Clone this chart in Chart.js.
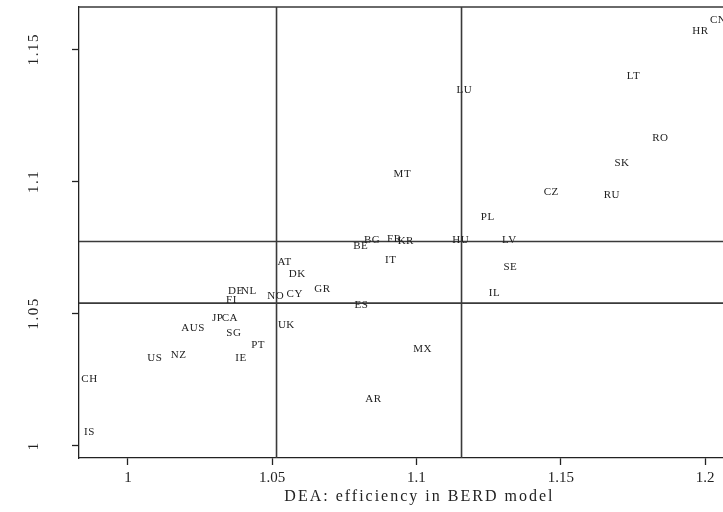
<!DOCTYPE html>
<html>
<head>
<meta charset="utf-8">
<script src="https://cdn.jsdelivr.net/npm/chart.js@4.4.1/dist/chart.umd.min.js"></script>
<style>
    html, body { margin: 0; padding: 0; background: #ffffff; }
    #wrap { width: 723px; height: 512px; }
</style>
</head>
<body>
<div id="wrap"><canvas id="chart" width="723" height="512"></canvas></div>
<script>
// country codes and their two efficiency scores (x: BERD model, y: other model)
const countries = ["CN", "HR", "LT", "LU", "RO", "SK", "MT", "CZ", "RU", "PL",
                   "HU", "LV", "BE", "BG", "FR", "KR", "IT", "SE", "AT", "DK",
                   "IL", "GR", "DE", "NL", "NO", "CY", "FI", "ES", "JP", "CA",
                   "AUS", "UK", "SG", "PT", "MX", "US", "NZ", "IE", "CH", "AR", "IS"];
const berdEff = [1.2045, 1.1984, 1.1752, 1.1166, 1.1845, 1.1712, 1.0951, 1.1467, 1.1677, 1.1247,
                 1.1153, 1.1322, 1.0807, 1.0846, 1.0923, 1.0963, 1.0911, 1.1325, 1.0543, 1.0587,
                 1.1270, 1.0674, 1.0374, 1.0419, 1.0512, 1.0578, 1.0359, 1.0809, 1.0311, 1.0353,
                 1.0226, 1.0549, 1.0367, 1.0451, 1.1021, 1.0093, 1.0176, 1.0392, 0.9867, 1.0851, 0.9867];
const otherEff = [1.1610, 1.1566, 1.1396, 1.1345, 1.1163, 1.1068, 1.1028, 1.0958, 1.0948, 1.0866,
                  1.0778, 1.0778, 1.0756, 1.0778, 1.0782, 1.0775, 1.0702, 1.0677, 1.0696, 1.0649,
                  1.0576, 1.0593, 1.0585, 1.0585, 1.0566, 1.0573, 1.0551, 1.0532, 1.0483, 1.0483,
                  1.0443, 1.0457, 1.0425, 1.0381, 1.0366, 1.0331, 1.0343, 1.0331, 1.0252, 1.0175, 1.0051];

const xTicks = [1, 1.05, 1.1, 1.15, 1.2];
const yTicks = [1, 1.05, 1.1, 1.15];
const xCutoffs = [1.0515, 1.1156];
const yCutoffs = [1.0539, 1.0772];
const xTitle = "DEA: efficiency in BERD model";

const serif = '"Liberation Serif", "DejaVu Serif", serif';
const ink = "#222222";

const points = berdEff.map((v, i) => ({ x: v, y: otherEff[i] }));

const quadrantLines = {
    id: "quadrantLines",
    beforeDatasetsDraw(chart) {
        const { ctx, chartArea: a, scales: { x, y } } = chart;
        ctx.save();
        ctx.strokeStyle = "#3a3a3a";
        ctx.lineWidth = 1.6;
        ctx.beginPath();
        xCutoffs.forEach(v => {
            const px = x.getPixelForValue(v);
            ctx.moveTo(px, a.top);
            ctx.lineTo(px, a.bottom);
        });
        yCutoffs.forEach(v => {
            const py = y.getPixelForValue(v);
            ctx.moveTo(a.left, py);
            ctx.lineTo(a.right, py);
        });
        // top frame line
        ctx.moveTo(a.left, a.top);
        ctx.lineTo(a.right, a.top);
        ctx.stroke();
        ctx.restore();
    }
};

const pointLabels = {
    id: "pointLabels",
    afterDatasetsDraw(chart) {
        const { ctx } = chart;
        const meta = chart.getDatasetMeta(0);
        ctx.save();
        ctx.font = "11px " + serif;
        ctx.letterSpacing = "0.5px";
        ctx.fillStyle = ink;
        ctx.textAlign = "center";
        ctx.textBaseline = "middle";
        meta.data.forEach((pt, i) => {
            ctx.fillText(countries[i], pt.x, pt.y);
        });
        ctx.restore();
    }
};

const axisText = {
    id: "axisText",
    afterDraw(chart) {
        const { ctx, scales: { x, y } } = chart;
        ctx.save();
        ctx.fillStyle = ink;
        ctx.font = "15px " + serif;
        ctx.letterSpacing = "1.5px";
        ctx.textAlign = "center";
        ctx.textBaseline = "middle";
        // rotated y tick labels
        yTicks.forEach(v => {
            ctx.save();
            ctx.translate(34, y.getPixelForValue(v));
            ctx.rotate(-Math.PI / 2);
            ctx.fillText(String(v), 0, 0);
            ctx.restore();
        });
        ctx.font = "16px " + serif;
        ctx.letterSpacing = "2px";
        ctx.fillText(xTitle, x.getPixelForValue(1.101), 497);
        ctx.restore();
    }
};

new Chart(document.getElementById("chart"), {
    type: "scatter",
    data: {
        datasets: [{
            data: points,
            pointRadius: 0,
            pointHoverRadius: 0
        }]
    },
    options: {
        responsive: false,
        animation: false,
        layout: {
            padding: { top: 7, right: 0, left: 0, bottom: 0 }
        },
        plugins: {
            legend: { display: false },
            tooltip: { enabled: false }
        },
        scales: {
            x: {
                type: "linear",
                min: 0.98306,
                max: 1.2062,
                afterBuildTicks: scale => { scale.ticks = xTicks.map(v => ({ value: v })); },
                afterFit: scale => { scale.height = 54; },
                grid: {
                    drawOnChartArea: false,
                    drawTicks: true,
                    tickLength: 7,
                    tickColor: ink,
                    tickWidth: 1.3
                },
                border: { display: true, color: ink, width: 1.3 },
                ticks: {
                    color: ink,
                    padding: 4,
                    maxRotation: 0,
                    autoSkip: false,
                    font: { family: serif, size: 15 },
                    callback: v => String(v)
                }
            },
            y: {
                type: "linear",
                min: 0.99535,
                max: 1.1659,
                afterBuildTicks: scale => { scale.ticks = yTicks.map(v => ({ value: v })); },
                afterFit: scale => { scale.width = 79; },
                grid: {
                    drawOnChartArea: false,
                    drawTicks: true,
                    tickLength: 7,
                    tickColor: ink,
                    tickWidth: 1.3
                },
                border: { display: true, color: ink, width: 1.3 },
                ticks: { display: false }
            }
        }
    },
    plugins: [quadrantLines, pointLabels, axisText]
});
</script>
</body>
</html>
